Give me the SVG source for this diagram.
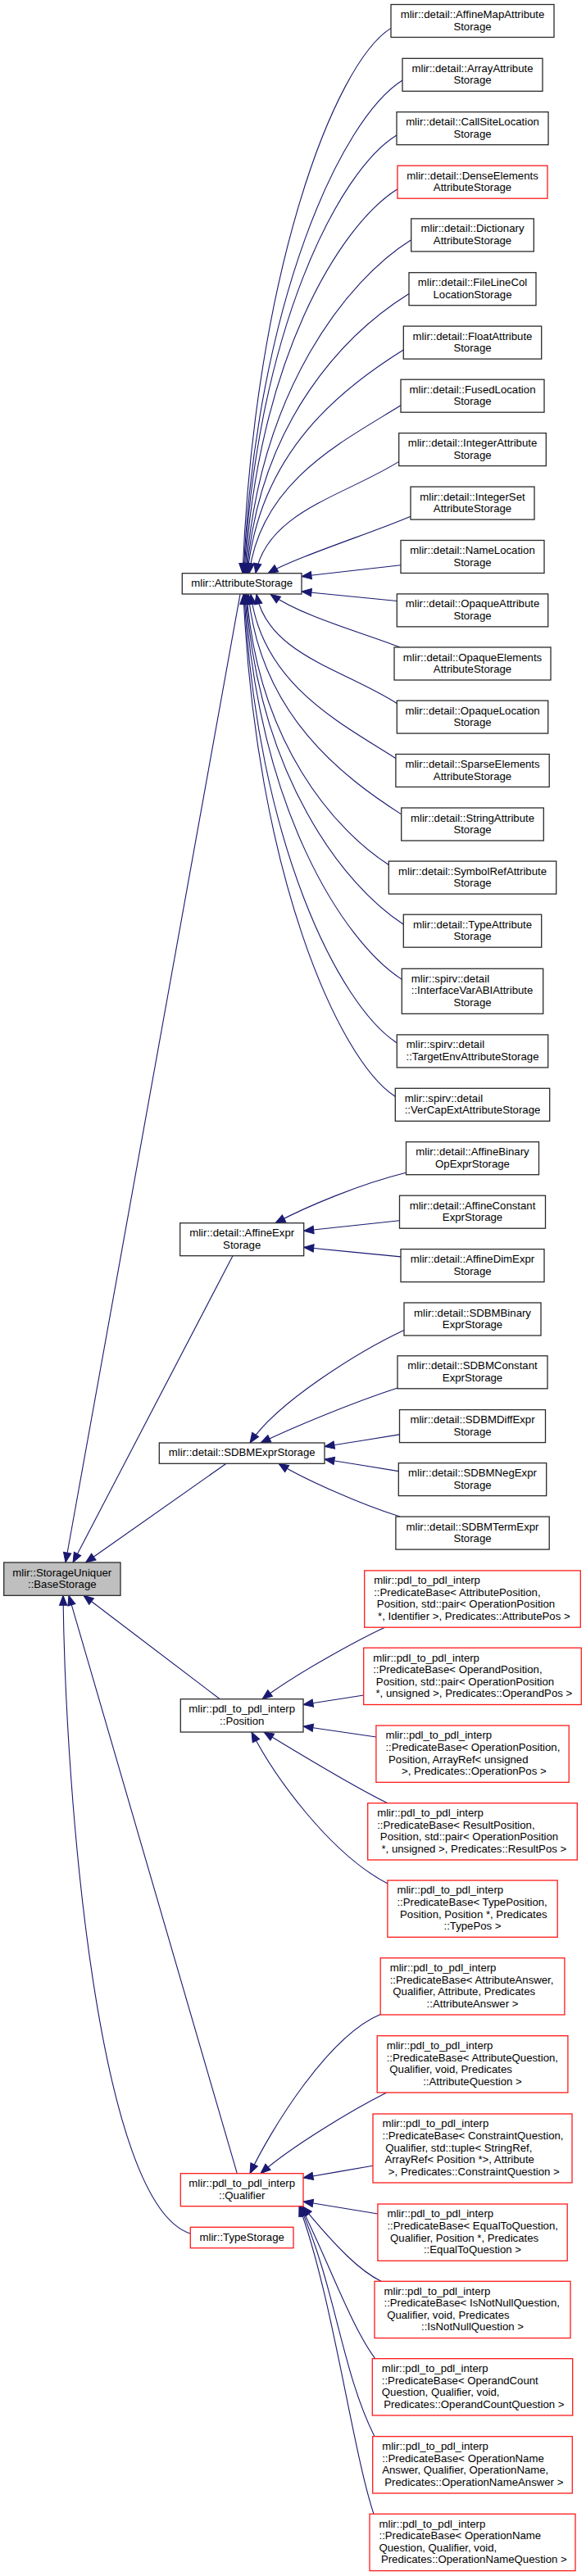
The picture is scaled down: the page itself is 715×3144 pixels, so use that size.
<svg xmlns="http://www.w3.org/2000/svg" width="715" height="3144" viewBox="0 0 715 3144">
<style>
.t{font-family:"Liberation Sans",Arial,Helvetica,sans-serif;font-size:13.2px;fill:#000}
.c{text-anchor:middle}
.b{fill:#fff;stroke:#2b2b2b;stroke-width:1.3}
.r{fill:#fff;stroke:#ff1a1a;stroke-width:1.3}
.g{fill:#bfbfbf;stroke:#2b2b2b;stroke-width:1.3}
.e path{fill:none;stroke:#191970;stroke-width:1.1;marker-end:url(#ah)}
</style>
<defs>
<marker id="ah" markerUnits="userSpaceOnUse" markerWidth="14" markerHeight="11" viewBox="-1 -1 14 11" refX="12" refY="4.7" orient="auto" overflow="visible">
<path d="M0,0 L12,4.7 L0,9.4 z" fill="#191970" stroke="#191970" stroke-width="1"/>
</marker>
</defs>
<rect width="715" height="3144" fill="#fff"/>
<g class="e" id="edges">
<path d="M477,34.4 C407.8,77.6 310.5,333.8 296,699.7"/>
<path d="M491,98 C416.8,144.3 312.5,368.8 297,699.7"/>
<path d="M484,165 C412.9,208.4 312.9,405.1 298,699.7"/>
<path d="M485,230.7 C413.9,275.1 313.9,441.7 299,699.7"/>
<path d="M501.7,292.7 C424.5,340.8 316.1,475.9 300,699.7"/>
<path d="M499,358.5 C423.3,405.7 316.8,512 301,699.7"/>
<path d="M492.3,427 C419.5,472.4 317.2,549.7 302,699.7"/>
<path d="M489,494.8 C418.2,538.9 318.8,587 304,699.7"/>
<path d="M486.7,563.4 C419.9,605.1 326,624.7 312,699.7"/>
<path d="M501,630.2 C455,650 361,680 327,699.7"/>
<path d="M489,689.8 C448.7,694.4 408.3,699 368,703.5"/>
<path d="M484.3,733.5 C445.5,729.7 406.8,725.8 368,722"/>
<path d="M488,790 C441.5,771.5 371,753.5 330,725.3"/>
<path d="M484.3,858.5 C419.5,816.9 326.7,798.6 313,725.3"/>
<path d="M483,925.7 C416.1,882.7 320.2,835.5 306,725.3"/>
<path d="M489.7,993.9 C419.1,948.5 317.9,873 303,725.3"/>
<path d="M474.3,1055.5 C408.8,1013.4 314.9,906.9 301,725.3"/>
<path d="M492.3,1128.2 C419.6,1081.5 315.4,946.9 300,725.3"/>
<path d="M490.3,1195.4 C418,1148.9 314.3,983.9 299,725.3"/>
<path d="M484.3,1272.8 C413.9,1227.5 312.9,1026.4 298,725.3"/>
<path d="M482.3,1338.3 C412.3,1293.3 311.8,1062.5 297,725.3"/>
<path d="M495.3,1431.3 C440,1445 375,1472 336,1492.7"/>
<path d="M487.3,1489.8 C448.4,1494 409.6,1498.1 370.7,1502.3"/>
<path d="M489,1533.9 C449.6,1530 410.1,1526.2 370.7,1522.3"/>
<path d="M493,1623.4 C439,1648.6 338,1711.2 305,1761"/>
<path d="M485,1694 C430,1712 360,1741 318,1761"/>
<path d="M487.3,1750.9 C456.9,1755.8 426.4,1760.6 396,1765.5"/>
<path d="M486.3,1795.6 C456.2,1790.7 426.1,1785.9 396,1781"/>
<path d="M488,1851.1 C440,1836 370,1805 340,1786.3"/>
<path d="M470,1986 C440,2000 365,2040 320,2073.7"/>
<path d="M443.7,2069 C419.1,2072.8 394.6,2076.7 370,2080.5"/>
<path d="M459,2120 C429.3,2115.7 399.7,2111.3 370,2107"/>
<path d="M473,2200.7 C430,2180 365,2140 322,2114"/>
<path d="M473,2299 C402,2262 334,2167 307,2114"/>
<path d="M464.3,2458.5 C400,2485 330,2600 305,2652.7"/>
<path d="M471.7,2554 C430,2575 355,2620 318,2652.7"/>
<path d="M455,2643.3 C426.7,2648.2 398.3,2653.1 370,2658"/>
<path d="M461,2702 C430.7,2697 400.3,2692 370,2687"/>
<path d="M465,2784.3 C440,2772 412,2745 369,2692.7"/>
<path d="M458,2879 C428,2839 398.5,2755 367,2692.7"/>
<path d="M457,2973.7 C416.5,2892.7 410,2794 366,2692.7"/>
<path d="M456,3068.3 C430,2990 405,2800 365,2692.7"/>
<path d="M293,725.3 L80,1907"/>
<path d="M284,1532.7 L89,1907"/>
<path d="M276,1786.3 L104.5,1907"/>
<path d="M268.3,2073.7 L102,1947.3"/>
<path d="M289.3,2652.7 L84,1947.3"/>
<path d="M232,2726 C120,2690 80,2200 77,1947.3"/>
</g>
<g id="base"><rect class="g" x="4.7" y="1907" width="142.3" height="40.3"/><text class="t c" x="75.8" y="1923.5">mlir::StorageUniquer</text><text class="t c" x="75.8" y="1938">::BaseStorage</text></g>
<g id="attrStorage"><rect class="b" x="222.3" y="699.7" width="145.7" height="25.3"/><text class="t c" x="295.2" y="716">mlir::AttributeStorage</text></g>
<g id="affineExpr"><rect class="b" x="219.7" y="1492.7" width="151" height="40"/><text class="t c" x="295.2" y="1509.2">mlir::detail::AffineExpr</text><text class="t c" x="295.2" y="1523.7">Storage</text></g>
<g id="sdbmExpr"><rect class="b" x="194.3" y="1761" width="201.7" height="25.3"/><text class="t c" x="295.2" y="1777.3">mlir::detail::SDBMExprStorage</text></g>
<g id="position"><rect class="b" x="220.3" y="2073.7" width="149.7" height="40.3"/><text class="t c" x="295.2" y="2090.2">mlir::pdl_to_pdl_interp</text><text class="t c" x="295.2" y="2104.7">::Position</text></g>
<g id="qualifier"><rect class="r" x="220.3" y="2652.7" width="149.7" height="40"/><text class="t c" x="295.2" y="2669.2">mlir::pdl_to_pdl_interp</text><text class="t c" x="295.2" y="2683.7">::Qualifier</text></g>
<g id="typeStorage"><rect class="r" x="232.3" y="2718.3" width="125.7" height="25.4"/><text class="t c" x="295.2" y="2734.6">mlir::TypeStorage</text></g>
<g id="n1"><rect class="b" x="477" y="5.5" width="199" height="40"/><text class="t c" x="576.5" y="22">mlir::detail::AffineMapAttribute</text><text class="t c" x="576.5" y="36.5">Storage</text></g>
<g id="n2"><rect class="b" x="491" y="71.3" width="171" height="40"/><text class="t c" x="576.5" y="87.8">mlir::detail::ArrayAttribute</text><text class="t c" x="576.5" y="102.3">Storage</text></g>
<g id="n3"><rect class="b" x="484" y="136.7" width="185" height="40"/><text class="t c" x="576.5" y="153.2">mlir::detail::CallSiteLocation</text><text class="t c" x="576.5" y="167.7">Storage</text></g>
<g id="n4"><rect class="r" x="485" y="202.2" width="183" height="40"/><text class="t c" x="576.5" y="218.7">mlir::detail::DenseElements</text><text class="t c" x="576.5" y="233.2">AttributeStorage</text></g>
<g id="n5"><rect class="b" x="501.7" y="266.9" width="149.6" height="40"/><text class="t c" x="576.5" y="283.4">mlir::detail::Dictionary</text><text class="t c" x="576.5" y="297.9">AttributeStorage</text></g>
<g id="n6"><rect class="b" x="499" y="332.7" width="155" height="40"/><text class="t c" x="576.5" y="349.2">mlir::detail::FileLineCol</text><text class="t c" x="576.5" y="363.7">LocationStorage</text></g>
<g id="n7"><rect class="b" x="492.3" y="398.1" width="168.4" height="40"/><text class="t c" x="576.5" y="414.6">mlir::detail::FloatAttribute</text><text class="t c" x="576.5" y="429.1">Storage</text></g>
<g id="n8"><rect class="b" x="489" y="463.2" width="175" height="40"/><text class="t c" x="576.5" y="479.7">mlir::detail::FusedLocation</text><text class="t c" x="576.5" y="494.2">Storage</text></g>
<g id="n9"><rect class="b" x="486.7" y="528.6" width="179.6" height="40"/><text class="t c" x="576.5" y="545.1">mlir::detail::IntegerAttribute</text><text class="t c" x="576.5" y="559.6">Storage</text></g>
<g id="n10"><rect class="b" x="501" y="594.1" width="151" height="40"/><text class="t c" x="576.5" y="610.6">mlir::detail::IntegerSet</text><text class="t c" x="576.5" y="625.1">AttributeStorage</text></g>
<g id="n11"><rect class="b" x="489" y="659.5" width="175" height="40"/><text class="t c" x="576.5" y="676">mlir::detail::NameLocation</text><text class="t c" x="576.5" y="690.5">Storage</text></g>
<g id="n12"><rect class="b" x="484.3" y="724.9" width="184.4" height="40"/><text class="t c" x="576.5" y="741.4">mlir::detail::OpaqueAttribute</text><text class="t c" x="576.5" y="755.9">Storage</text></g>
<g id="n13"><rect class="b" x="481" y="790" width="191" height="40"/><text class="t c" x="576.5" y="806.5">mlir::detail::OpaqueElements</text><text class="t c" x="576.5" y="821">AttributeStorage</text></g>
<g id="n14"><rect class="b" x="484.3" y="855.1" width="184.4" height="40"/><text class="t c" x="576.5" y="871.6">mlir::detail::OpaqueLocation</text><text class="t c" x="576.5" y="886.1">Storage</text></g>
<g id="n15"><rect class="b" x="482.9" y="920.5" width="187.3" height="40"/><text class="t c" x="576.5" y="937">mlir::detail::SparseElements</text><text class="t c" x="576.5" y="951.5">AttributeStorage</text></g>
<g id="n16"><rect class="b" x="489.7" y="986" width="173.6" height="40"/><text class="t c" x="576.5" y="1002.5">mlir::detail::StringAttribute</text><text class="t c" x="576.5" y="1017">Storage</text></g>
<g id="n17"><rect class="b" x="474.3" y="1051.1" width="204.4" height="40"/><text class="t c" x="576.5" y="1067.6">mlir::detail::SymbolRefAttribute</text><text class="t c" x="576.5" y="1082.1">Storage</text></g>
<g id="n18"><rect class="b" x="492.3" y="1116.2" width="168.4" height="40"/><text class="t c" x="576.5" y="1132.7">mlir::detail::TypeAttribute</text><text class="t c" x="576.5" y="1147.2">Storage</text></g>
<g id="n19"><rect class="b" x="490.3" y="1182.3" width="172.4" height="55"/><text class="t" x="501.8" y="1198.6">mlir::spirv::detail</text><text class="t" x="501.8" y="1213.2">::InterfaceVarABIAttribute</text><text class="t c" x="576.5" y="1227.8">Storage</text></g>
<g id="n20"><rect class="b" x="484.3" y="1262.9" width="184.4" height="40"/><text class="t" x="495.8" y="1279.4">mlir::spirv::detail</text><text class="t c" x="576.5" y="1293.9">::TargetEnvAttributeStorage</text></g>
<g id="n21"><rect class="b" x="482.3" y="1328.3" width="188.4" height="40"/><text class="t" x="493.8" y="1344.8">mlir::spirv::detail</text><text class="t c" x="576.5" y="1359.3">::VerCapExtAttributeStorage</text></g>
<g id="n22"><rect class="b" x="495.5" y="1393.7" width="162" height="40"/><text class="t c" x="576.5" y="1410.2">mlir::detail::AffineBinary</text><text class="t c" x="576.5" y="1424.7">OpExprStorage</text></g>
<g id="n23"><rect class="b" x="487.5" y="1459.2" width="178" height="40"/><text class="t c" x="576.5" y="1475.7">mlir::detail::AffineConstant</text><text class="t c" x="576.5" y="1490.2">ExprStorage</text></g>
<g id="n24"><rect class="b" x="489" y="1524.6" width="175" height="40"/><text class="t c" x="576.5" y="1541.1">mlir::detail::AffineDimExpr</text><text class="t c" x="576.5" y="1555.6">Storage</text></g>
<g id="n25"><rect class="b" x="493" y="1590" width="167" height="40"/><text class="t c" x="576.5" y="1606.5">mlir::detail::SDBMBinary</text><text class="t c" x="576.5" y="1621">ExprStorage</text></g>
<g id="n26"><rect class="b" x="485" y="1654.8" width="183" height="40"/><text class="t c" x="576.5" y="1671.3">mlir::detail::SDBMConstant</text><text class="t c" x="576.5" y="1685.8">ExprStorage</text></g>
<g id="n27"><rect class="b" x="487.5" y="1720.6" width="178" height="40"/><text class="t c" x="576.5" y="1737.1">mlir::detail::SDBMDiffExpr</text><text class="t c" x="576.5" y="1751.6">Storage</text></g>
<g id="n28"><rect class="b" x="486.3" y="1785.6" width="180.4" height="40"/><text class="t c" x="576.5" y="1802.1">mlir::detail::SDBMNegExpr</text><text class="t c" x="576.5" y="1816.6">Storage</text></g>
<g id="n29"><rect class="b" x="482.9" y="1851.1" width="187.3" height="40"/><text class="t c" x="576.5" y="1867.6">mlir::detail::SDBMTermExpr</text><text class="t c" x="576.5" y="1882.1">Storage</text></g>
<g id="n30"><rect class="r" x="444.7" y="1916.9" width="263.6" height="69.3"/><text class="t" x="456.2" y="1933.2">mlir::pdl_to_pdl_interp</text><text class="t" x="456.2" y="1947.8">::PredicateBase&lt; AttributePosition,</text><text class="t" xml:space="preserve" x="456.2" y="1962.4"> Position, std::pair&lt; OperationPosition</text><text class="t c" xml:space="preserve" x="576.5" y="1977"> *, Identifier &gt;, Predicates::AttributePos &gt;</text></g>
<g id="n31"><rect class="r" x="443.7" y="2011.2" width="265.6" height="69.3"/><text class="t" x="455.2" y="2027.5">mlir::pdl_to_pdl_interp</text><text class="t" x="455.2" y="2042.1">::PredicateBase&lt; OperandPosition,</text><text class="t" xml:space="preserve" x="455.2" y="2056.7"> Position, std::pair&lt; OperationPosition</text><text class="t c" xml:space="preserve" x="576.5" y="2071.3"> *, unsigned &gt;, Predicates::OperandPos &gt;</text></g>
<g id="n32"><rect class="r" x="458.9" y="2106" width="235.3" height="69.3"/><text class="t" x="470.4" y="2122.3">mlir::pdl_to_pdl_interp</text><text class="t" x="470.4" y="2136.9">::PredicateBase&lt; OperationPosition,</text><text class="t" xml:space="preserve" x="470.4" y="2151.5"> Position, ArrayRef&lt; unsigned</text><text class="t c" xml:space="preserve" x="576.5" y="2166.1"> &gt;, Predicates::OperationPos &gt;</text></g>
<g id="n33"><rect class="r" x="448.7" y="2200.7" width="255.6" height="69.3"/><text class="t" x="460.2" y="2217">mlir::pdl_to_pdl_interp</text><text class="t" x="460.2" y="2231.6">::PredicateBase&lt; ResultPosition,</text><text class="t" xml:space="preserve" x="460.2" y="2246.2"> Position, std::pair&lt; OperationPosition</text><text class="t c" xml:space="preserve" x="576.5" y="2260.8"> *, unsigned &gt;, Predicates::ResultPos &gt;</text></g>
<g id="n34"><rect class="r" x="472.9" y="2295" width="207.3" height="69.3"/><text class="t" x="484.4" y="2311.3">mlir::pdl_to_pdl_interp</text><text class="t" x="484.4" y="2325.9">::PredicateBase&lt; TypePosition,</text><text class="t" xml:space="preserve" x="484.4" y="2340.5"> Position, Position *, Predicates</text><text class="t c" x="576.5" y="2355.1">::TypePos &gt;</text></g>
<g id="n35"><rect class="r" x="464.2" y="2389.7" width="224.7" height="69.3"/><text class="t" x="475.7" y="2406">mlir::pdl_to_pdl_interp</text><text class="t" x="475.7" y="2420.6">::PredicateBase&lt; AttributeAnswer,</text><text class="t" xml:space="preserve" x="475.7" y="2435.2"> Qualifier, Attribute, Predicates</text><text class="t c" x="576.5" y="2449.8">::AttributeAnswer &gt;</text></g>
<g id="n36"><rect class="r" x="460.2" y="2484.7" width="232.7" height="69.3"/><text class="t" x="471.7" y="2501">mlir::pdl_to_pdl_interp</text><text class="t" x="471.7" y="2515.6">::PredicateBase&lt; AttributeQuestion,</text><text class="t" xml:space="preserve" x="471.7" y="2530.2"> Qualifier, void, Predicates</text><text class="t c" x="576.5" y="2544.8">::AttributeQuestion &gt;</text></g>
<g id="n37"><rect class="r" x="455" y="2580" width="243" height="84"/><text class="t" x="466.5" y="2596.3">mlir::pdl_to_pdl_interp</text><text class="t" x="466.5" y="2610.9">::PredicateBase&lt; ConstraintQuestion,</text><text class="t" xml:space="preserve" x="466.5" y="2625.5"> Qualifier, std::tuple&lt; StringRef,</text><text class="t" xml:space="preserve" x="466.5" y="2640.1"> ArrayRef&lt; Position *&gt;, Attribute</text><text class="t c" xml:space="preserve" x="576.5" y="2654.7"> &gt;, Predicates::ConstraintQuestion &gt;</text></g>
<g id="n38"><rect class="r" x="460.9" y="2690" width="231.3" height="69.3"/><text class="t" x="472.4" y="2706.3">mlir::pdl_to_pdl_interp</text><text class="t" x="472.4" y="2720.9">::PredicateBase&lt; EqualToQuestion,</text><text class="t" xml:space="preserve" x="472.4" y="2735.5"> Qualifier, Position *, Predicates</text><text class="t c" x="576.5" y="2750.1">::EqualToQuestion &gt;</text></g>
<g id="n39"><rect class="r" x="457" y="2784.3" width="239" height="69.3"/><text class="t" x="468.5" y="2800.6">mlir::pdl_to_pdl_interp</text><text class="t" x="468.5" y="2815.2">::PredicateBase&lt; IsNotNullQuestion,</text><text class="t" xml:space="preserve" x="468.5" y="2829.8"> Qualifier, void, Predicates</text><text class="t c" x="576.5" y="2844.4">::IsNotNullQuestion &gt;</text></g>
<g id="n40"><rect class="r" x="454.3" y="2878.7" width="244.4" height="69.3"/><text class="t" x="465.8" y="2895">mlir::pdl_to_pdl_interp</text><text class="t" x="465.8" y="2909.6">::PredicateBase&lt; OperandCount</text><text class="t" x="465.8" y="2924.2">Question, Qualifier, void,</text><text class="t c" xml:space="preserve" x="576.5" y="2938.8"> Predicates::OperandCountQuestion &gt;</text></g>
<g id="n41"><rect class="r" x="454.7" y="2973.7" width="243.6" height="69.3"/><text class="t" x="466.2" y="2990">mlir::pdl_to_pdl_interp</text><text class="t" x="466.2" y="3004.6">::PredicateBase&lt; OperationName</text><text class="t" x="466.2" y="3019.2">Answer, Qualifier, OperationName,</text><text class="t c" xml:space="preserve" x="576.5" y="3033.8"> Predicates::OperationNameAnswer &gt;</text></g>
<g id="n42"><rect class="r" x="451" y="3068.3" width="251" height="69.3"/><text class="t" x="462.5" y="3084.6">mlir::pdl_to_pdl_interp</text><text class="t" x="462.5" y="3099.2">::PredicateBase&lt; OperationName</text><text class="t" x="462.5" y="3113.8">Question, Qualifier, void,</text><text class="t c" xml:space="preserve" x="576.5" y="3128.4"> Predicates::OperationNameQuestion &gt;</text></g>
</svg>
